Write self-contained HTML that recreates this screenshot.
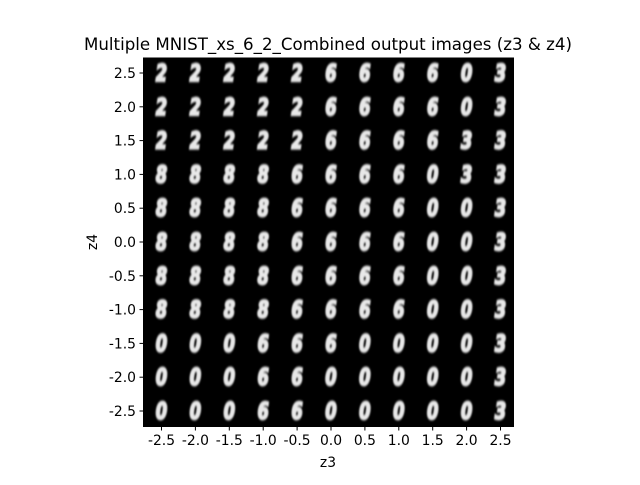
<!DOCTYPE html>
<html><head><meta charset="utf-8"><style>
html,body{margin:0;padding:0;background:#fff;}
svg text{font-family:"DejaVu Sans","Liberation Sans",sans-serif;}
</style></head><body>
<svg id="chart" width="640" height="480" viewBox="0 0 640 480" xmlns="http://www.w3.org/2000/svg">
<defs><filter id="blur" x="-50%" y="-50%" width="200%" height="200%"><feGaussianBlur stdDeviation="1.1"/></filter></defs>
<text x="328" y="50" font-size="16.7" text-anchor="middle" textLength="488" lengthAdjust="spacingAndGlyphs">Multiple MNIST_xs_6_2_Combined output images (z3 &amp; z4)</text>
<rect x="143" y="57.5" width="371" height="369.5" fill="#000"/>
<g id="cells"></g>
<g id="axes"></g>
<text x="328" y="467" font-size="13.9" text-anchor="middle">z3</text>
<text x="97" y="242" font-size="13.9" text-anchor="middle" transform="rotate(-90 97 242)">z4</text>
</svg>
<script>
const z3Values = [-2.5,-2,-1.5,-1,-0.5,0,0.5,1,1.5,2,2.5];
const z4Values = [2.5,2,1.5,1,0.5,0,-0.5,-1,-1.5,-2,-2.5];
const xTicks = ["-2.5","-2.0","-1.5","-1.0","-0.5","0.0","0.5","1.0","1.5","2.0","2.5"];
const yTicks = ["2.5","2.0","1.5","1.0","0.5","0.0","-0.5","-1.0","-1.5","-2.0","-2.5"];
const glyphRows = [
 "22222666603","22222666603","22222666633","88886666033","88886666003",
 "88886666003","88886666003","88886666003","00066600003","00066000003","00066000003"];
const sx = v => 331 + v*67.8;
const sy = v => 242 - v*67.6;
const NS="http://www.w3.org/2000/svg";
const cells=document.getElementById('cells'), axes=document.getElementById('axes');
z4Values.forEach((zy,r)=>{z3Values.forEach((zx,c)=>{
  const t=document.createElementNS(NS,'text');
  
  
  t.setAttribute('x',0);t.setAttribute('y',0);
  t.setAttribute('transform','translate('+sx(zx)+','+(sy(zy)+8)+') scale(0.7,1)');
  t.setAttribute('font-size','23');t.setAttribute('font-weight','bold');t.setAttribute('font-style','italic');
  t.setAttribute('text-anchor','middle');t.setAttribute('fill','#e8e8e8');
  t.setAttribute('stroke','#e8e8e8');t.setAttribute('stroke-width','2.2');t.setAttribute('filter','url(#blur)');
  t.textContent=glyphRows[r][c];cells.appendChild(t);
});});
z3Values.forEach((v,i)=>{
  const l=document.createElementNS(NS,'line');
  
  
  l.setAttribute('x1',sx(v));l.setAttribute('x2',sx(v));l.setAttribute('y1',427);l.setAttribute('y2',430.5);l.setAttribute('stroke','#000');
  axes.appendChild(l);
  const t=document.createElementNS(NS,'text');
  
  
  t.setAttribute('x',sx(v));t.setAttribute('y',445);t.setAttribute('font-size','13.9');t.setAttribute('text-anchor','middle');
  t.textContent=xTicks[i];axes.appendChild(t);
});
z4Values.forEach((v,i)=>{
  const l=document.createElementNS(NS,'line');
  
  
  l.setAttribute('x1',139.5);l.setAttribute('x2',143);l.setAttribute('y1',sy(v));l.setAttribute('y2',sy(v));l.setAttribute('stroke','#000');
  axes.appendChild(l);
  const t=document.createElementNS(NS,'text');
  
  
  t.setAttribute('x',136);t.setAttribute('y',sy(v)+5);t.setAttribute('font-size','13.9');t.setAttribute('text-anchor','end');
  t.textContent=yTicks[i];axes.appendChild(t);
});
</script>
</body></html>
